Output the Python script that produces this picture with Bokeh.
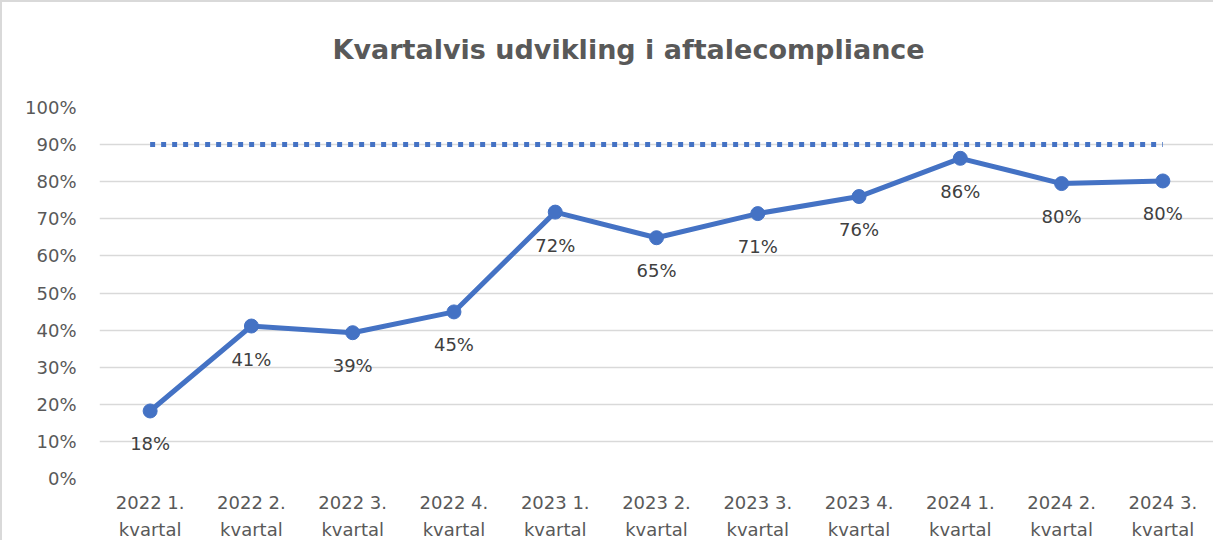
from bokeh.plotting import figure
from bokeh.models import ColumnDataSource, Range1d, NumeralTickFormatter, FixedTicker, Title
from bokeh.core.properties import value
from bokeh.embed import file_html
from bokeh.resources import INLINE

quarters = ["2022 1.\nkvartal", "2022 2.\nkvartal", "2022 3.\nkvartal", "2022 4.\nkvartal",
            "2023 1.\nkvartal", "2023 2.\nkvartal", "2023 3.\nkvartal", "2023 4.\nkvartal",
            "2024 1.\nkvartal", "2024 2.\nkvartal", "2024 3.\nkvartal"]
compliance = [0.182, 0.411, 0.393, 0.449, 0.718, 0.649, 0.714, 0.760, 0.863, 0.795, 0.802]
labels = ["18%", "41%", "39%", "45%", "72%", "65%", "71%", "76%", "86%", "80%", "80%"]
target = [0.90] * len(quarters)
y_ticks = [0.0, 0.1, 0.2, 0.3, 0.4, 0.5, 0.6, 0.7, 0.8, 0.9, 1.0]
title_text = "Kvartalvis udvikling i aftalecompliance"

BLUE = "#4472C4"
FONT = "DejaVu Sans"

src = ColumnDataSource(dict(q=quarters, v=compliance, lab=labels, t=target))

p = figure(x_range=quarters, y_range=Range1d(0, 1), width=1213, height=540,
           output_backend="svg", toolbar_location=None,
           min_border_left=97, min_border_right=2, min_border_top=105, min_border_bottom=64,
           styles={"border-left": "2px solid #d9d9d9", "border-top": "2px solid #d9d9d9"})
p.x_range.range_padding = 0
p.outline_line_color = None
p.background_fill_color = "white"
p.border_fill_color = "white"

# visible title
p.title.text = title_text
p.title.align = "left"
p.title.offset = 233
p.title.standoff = 0
p.title.text_font = FONT
p.title.text_font_style = "bold"
p.title.text_font_size = "27px"
p.title.text_color = "#595959"

# spacer between title and frame
p.add_layout(Title(text=" ", text_font_size="1px", standoff=40), "above")

# target line
p.line(x="q", y="t", source=src, line_color=BLUE, line_width=5, line_dash="5 6", line_cap="butt")
# main series
p.line(x="q", y="v", source=src, line_color=BLUE, line_width=5, line_join="round")
p.scatter(x="q", y="v", source=src, size=14, fill_color=BLUE, line_color=BLUE)
p.text(x="q", y="v", text="lab", source=src, y_offset=33, text_align="center",
       text_baseline="middle", text_font=value(FONT), text_font_size="18px", text_color="#404040")

# axes
p.xgrid.visible = False
p.ygrid.grid_line_color = "#d9d9d9"
p.ygrid.grid_line_width = 1.5
p.yaxis.ticker = FixedTicker(ticks=y_ticks)
p.yaxis.formatter = NumeralTickFormatter(format="0%")
for ax in (p.xaxis[0], p.yaxis[0]):
    ax.axis_line_color = None
    ax.major_tick_line_color = None
    ax.minor_tick_line_color = None
    ax.major_tick_in = 0
    ax.major_tick_out = 0
    ax.major_label_text_font = FONT
    ax.major_label_text_font_size = "18px"
    ax.major_label_text_color = "#595959"
p.yaxis.major_label_standoff = 23
p.xaxis.major_label_standoff = 13
p.xaxis.major_label_text_line_height = 1.3

open("out.html", "w").write(file_html(p, INLINE))
